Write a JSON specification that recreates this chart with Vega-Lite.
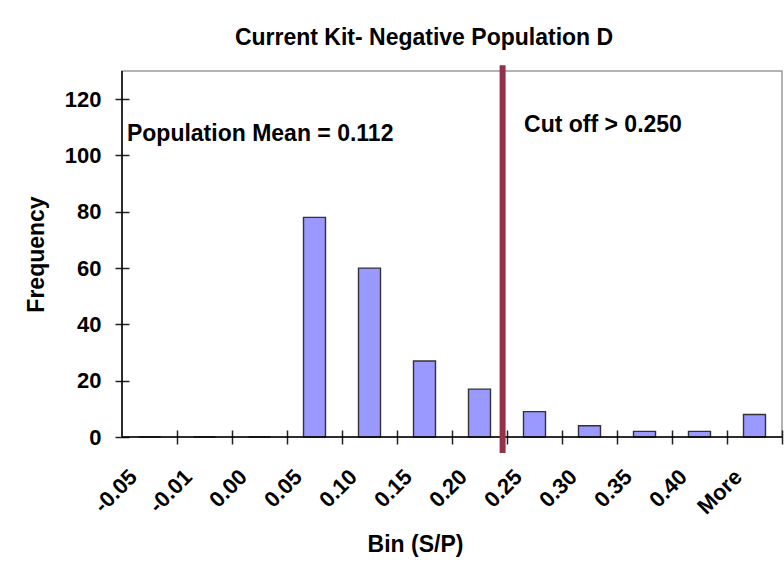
{
  "$schema": "https://vega.github.io/schema/vega-lite/v6.json",
  "autosize": {"type": "none"},
  "width": 660,
  "height": 366,
  "padding": {"left": 122, "top": 71, "right": 2, "bottom": 133},
  "background": "white",
  "config": {
    "view": {"stroke": "#9a9a9a", "strokeWidth": 1.5},
    "font": "Liberation Sans",
    "axis": {"labelFont": "Liberation Sans", "titleFont": "Liberation Sans", "labelFontWeight": "bold", "titleFontWeight": "bold", "labelColor": "black", "titleColor": "black", "tickColor": "#222", "tickWidth": 1.5}
  },
  "title": {"text": "Current Kit- Negative Population D", "fontSize": 23, "fontWeight": "bold", "font": "Liberation Sans", "color": "black", "dx": -28, "offset": 12},
  "datasets": {
    "bins": [
      {"bin": "-0.05", "freq": 0},
      {"bin": "-0.01", "freq": 0},
      {"bin": "0.00", "freq": 0},
      {"bin": "0.05", "freq": 78},
      {"bin": "0.10", "freq": 60},
      {"bin": "0.15", "freq": 27},
      {"bin": "0.20", "freq": 17},
      {"bin": "0.25", "freq": 9},
      {"bin": "0.30", "freq": 4},
      {"bin": "0.35", "freq": 2},
      {"bin": "0.40", "freq": 2},
      {"bin": "More", "freq": 8}
    ],
    "cutoff": [{"bin": "0.20", "lo": -5.7, "hi": 132}],
    "notes": [
      {"bin": "-0.05", "y": 105.3, "label": "Population Mean = 0.112"},
      {"bin": "0.25", "y": 108.5, "label": "Cut off > 0.250"}
    ]
  },
  "layer": [
    {
      "data": {"name": "bins"},
      "mark": {"type": "bar", "color": "#9999ff", "stroke": "#333333", "strokeWidth": 1.4, "width": {"band": 0.4}},
      "encoding": {
        "x": {
          "field": "bin", "type": "nominal", "sort": null,
          "scale": {"domain": ["-0.05", "-0.01", "0.00", "0.05", "0.10", "0.15", "0.20", "0.25", "0.30", "0.35", "0.40", "More"], "paddingInner": 0, "paddingOuter": 0},
          "axis": {
            "title": "Bin (S/P)", "titleFontSize": 23, "titleX": 293, "titleY": 121, "titleBaseline": "alphabetic",
            "labelAngle": -45, "labelAlign": "right", "labelBaseline": "middle", "labelFontSize": 22,
            "labelPadding": 29, "labelOffset": -16, "bandPosition": 1,
            "tickSize": 14, "offset": -7, "domain": false, "grid": false
          }
        },
        "y": {
          "field": "freq", "type": "quantitative",
          "scale": {"domain": [0, 130], "nice": false},
          "axis": {
            "title": "Frequency", "titleFontSize": 23, "titlePadding": 16,
            "values": [0, 20, 40, 60, 80, 100, 120], "labelFontSize": 22, "labelPadding": 14,
            "tickSize": 14, "offset": -7, "domain": false, "grid": false
          }
        }
      }
    },
    {
      "data": {"values": [{"v": 0}]},
      "mark": {"type": "rule", "color": "black", "strokeWidth": 1.5},
      "encoding": {"y": {"datum": 0}}
    },
    {
      "data": {"values": [{"v": 0}]},
      "mark": {"type": "rule", "color": "black", "strokeWidth": 1.5},
      "encoding": {"x": {"datum": "-0.05", "bandPosition": 0}}
    },
    {
      "data": {"name": "cutoff"},
      "mark": {"type": "rule", "color": "#943047", "strokeWidth": 6},
      "encoding": {
        "x": {"field": "bin", "type": "nominal", "bandPosition": 0.92},
        "y": {"field": "hi", "type": "quantitative"},
        "y2": {"field": "lo"}
      }
    },
    {
      "data": {"name": "notes"},
      "transform": [{"filter": "datum.bin == '-0.05'"}],
      "mark": {"type": "text", "align": "left", "baseline": "alphabetic", "fontSize": 23, "fontWeight": "bold", "color": "black"},
      "encoding": {
        "x": {"field": "bin", "type": "nominal", "bandPosition": 0.09},
        "y": {"field": "y", "type": "quantitative"},
        "text": {"field": "label"}
      }
    },
    {
      "data": {"name": "notes"},
      "transform": [{"filter": "datum.bin == '0.25'"}],
      "mark": {"type": "text", "align": "left", "baseline": "alphabetic", "fontSize": 23, "fontWeight": "bold", "color": "black"},
      "encoding": {
        "x": {"field": "bin", "type": "nominal", "bandPosition": 0.31},
        "y": {"field": "y", "type": "quantitative"},
        "text": {"field": "label"}
      }
    }
  ]
}
